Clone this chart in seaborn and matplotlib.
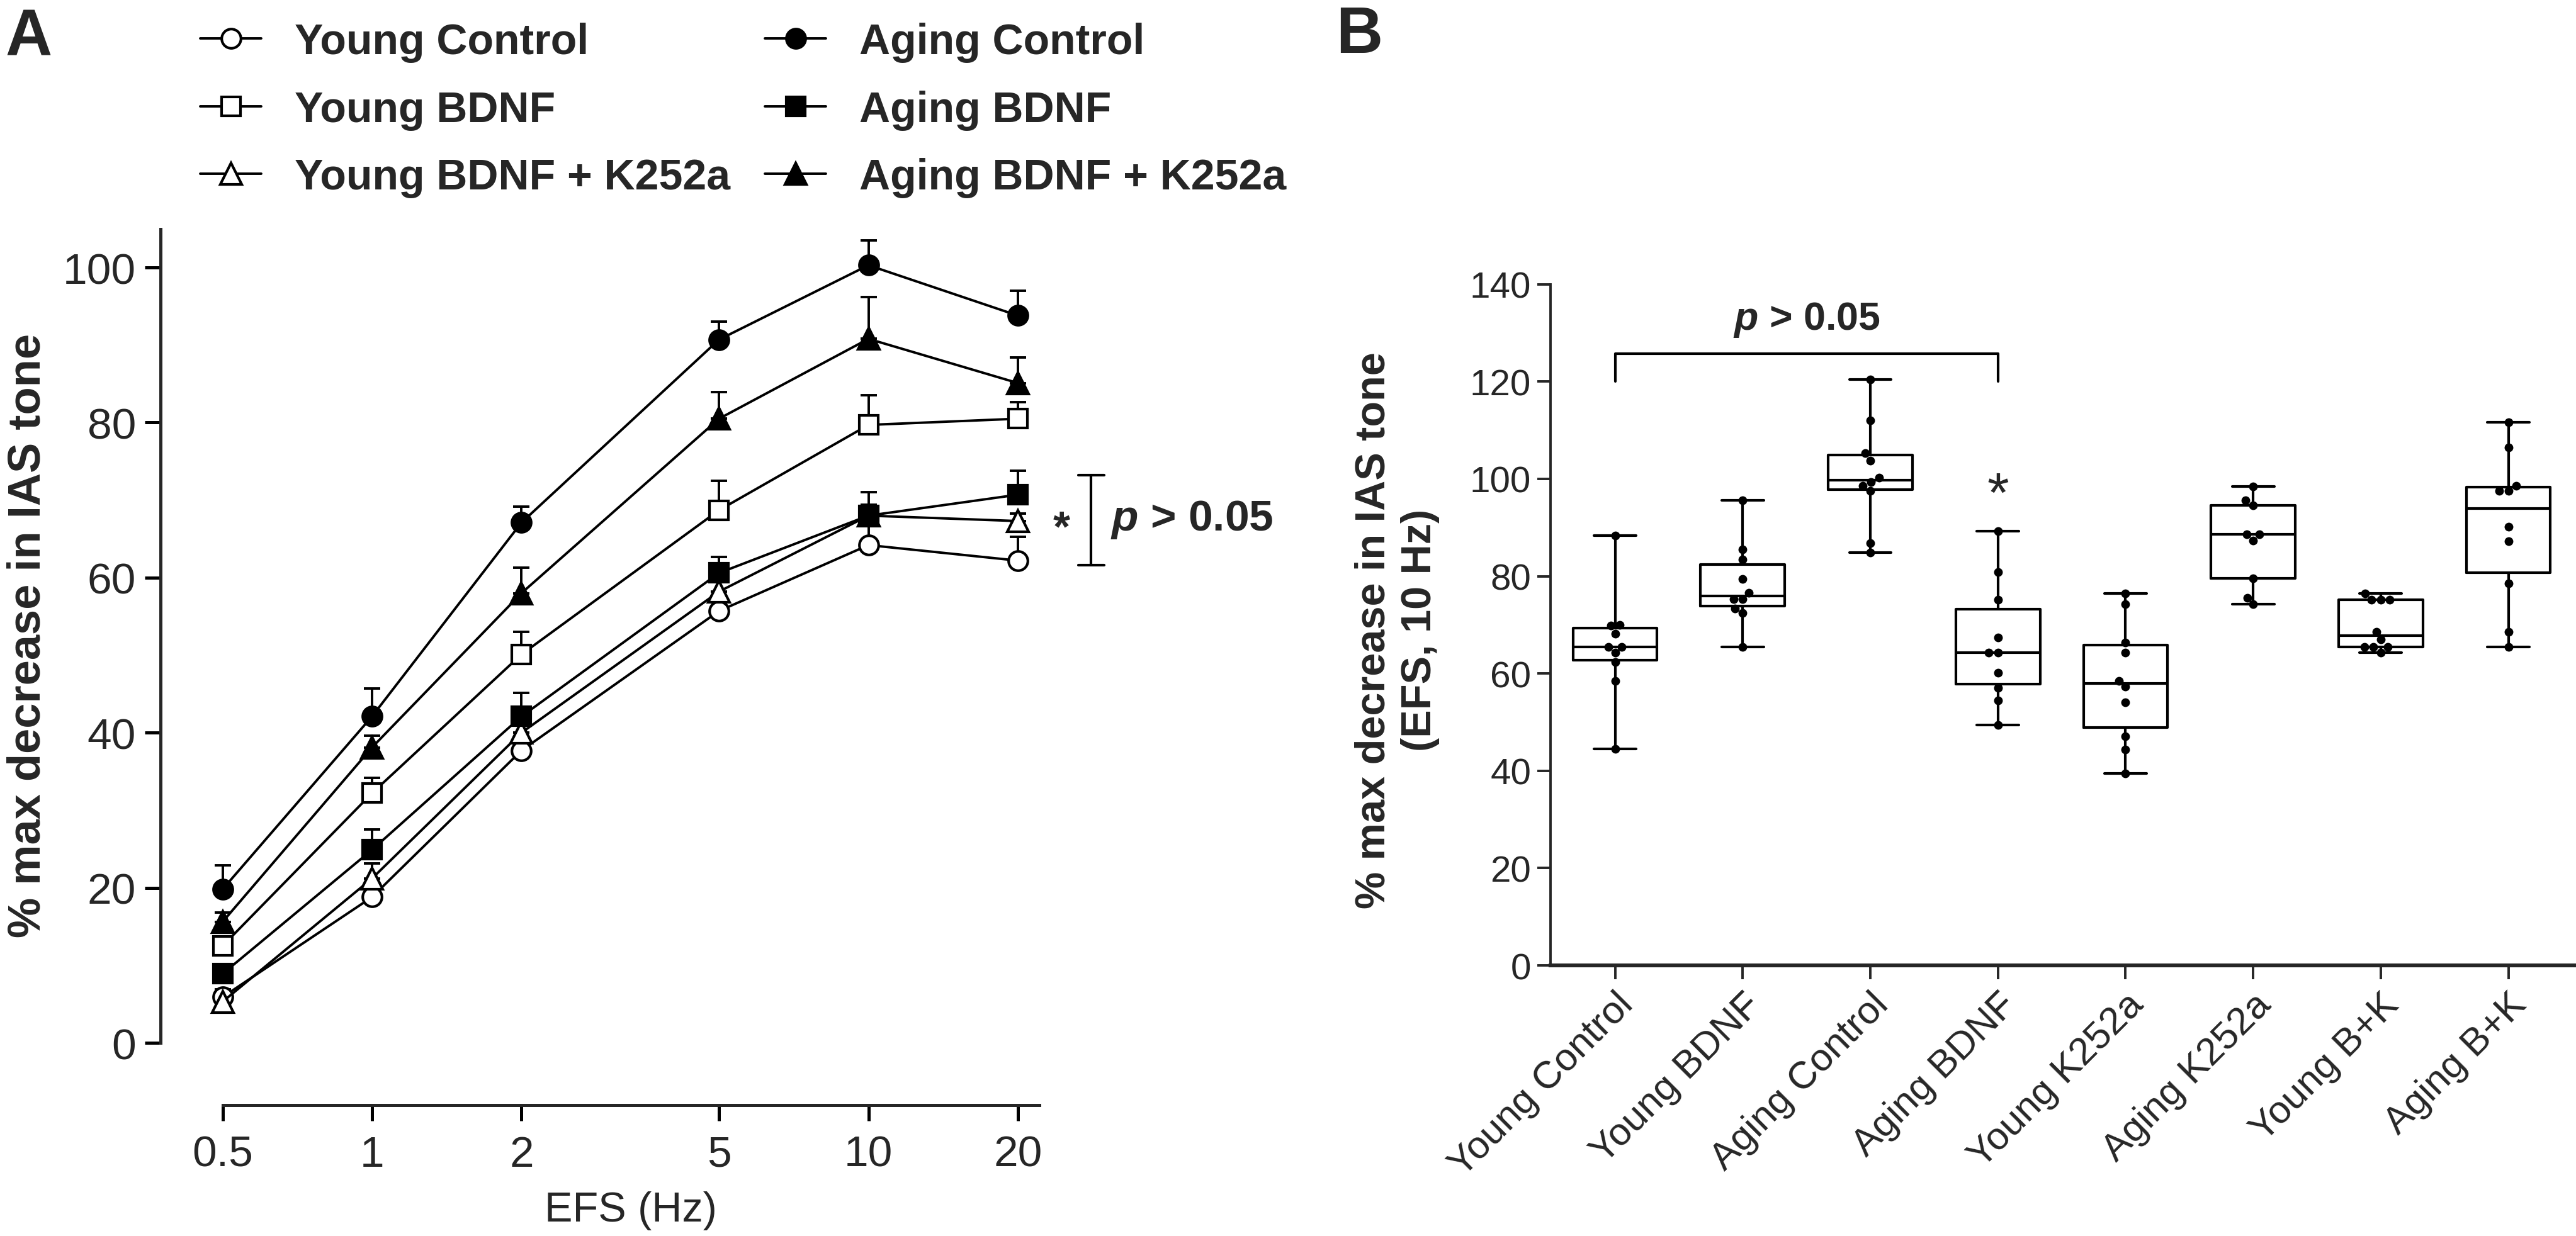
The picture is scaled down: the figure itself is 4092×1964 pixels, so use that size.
import numpy as np
import pandas as pd
import matplotlib
matplotlib.use("Agg")
import matplotlib.pyplot as plt
import seaborn as sns
from matplotlib.ticker import NullLocator

# ---- panel A: frequency-response curves (mean + SEM) ----
efs_hz = [0.5, 1, 2, 5, 10, 20]
efs_labels = ["0.5", "1", "2", "5", "10", "20"]

young_control = [5.9, 18.8, 37.7, 55.7, 64.2, 62.2]
young_control_sem = [1.0, 1.0, 1.2, 1.2, 3.5, 3.1]
young_bdnf = [12.5, 32.2, 50.1, 68.7, 79.7, 80.5]
young_bdnf_sem = [1.2, 2.0, 2.9, 3.8, 3.8, 2.1]
young_bdnf_k252a = [5.3, 21.2, 40.0, 58.2, 68.0, 67.3]
young_bdnf_k252a_sem = [1.5, 1.9, 1.5, 1.5, 1.4, 1.0]
aging_control = [19.8, 42.1, 67.1, 90.7, 100.3, 93.8]
aging_control_sem = [3.1, 3.6, 2.1, 2.3, 3.2, 3.2]
aging_bdnf = [8.9, 24.9, 42.1, 60.6, 68.0, 70.7]
aging_bdnf_sem = [1.2, 2.6, 3.0, 2.1, 3.0, 3.1]
aging_bdnf_k252a = [15.6, 38.1, 58.0, 80.5, 90.8, 85.1]
aging_bdnf_k252a_sem = [1.2, 1.5, 3.3, 3.4, 5.4, 3.3]

# ---- panel B: individual values at 10 Hz ----
groups_b = ["Young Control", "Young BDNF", "Aging Control", "Aging BDNF",
            "Young K252a", "Aging K252a", "Young B+K", "Aging B+K"]
young_control_pts = [88.4, 70.0, 69.8, 68.2, 65.5, 65.5, 64.3, 62.3, 58.5, 44.5]
young_bdnf_pts = [95.6, 85.5, 83.4, 79.4, 76.6, 75.3, 75.3, 73.4, 72.4, 65.4]
aging_control_pts = [120.4, 112.0, 105.3, 103.8, 100.2, 99.4, 98.6, 97.6, 86.8, 84.9]
aging_bdnf_pts = [89.3, 80.9, 75.2, 67.4, 64.3, 64.3, 60.2, 57.0, 54.5, 49.4]
young_k252a_pts = [76.5, 74.2, 66.4, 64.3, 58.5, 57.3, 54.1, 47.1, 44.4, 39.4]
aging_k252a_pts = [98.4, 95.6, 94.6, 88.6, 88.6, 87.3, 79.6, 75.6, 74.2]
young_bk_pts = [76.5, 75.2, 75.2, 75.2, 68.6, 67.0, 65.4, 65.4, 65.4, 64.3]
aging_bk_pts = [111.7, 106.5, 98.6, 97.6, 97.6, 90.2, 87.2, 78.5, 68.6, 65.5]

sns.set_style("ticks")
plt.rcParams["font.family"] = ["Liberation Sans", "DejaVu Sans"]
plt.rcParams["mathtext.fontset"] = "custom"
plt.rcParams["mathtext.it"] = "Liberation Sans:bold:italic"
plt.rcParams["mathtext.rm"] = "Liberation Sans:bold"

W, H = 4092, 1965
fig = plt.figure(figsize=(W / 200, H / 200), dpi=200)

# ================= Panel A =================
axA = fig.add_axes([0.0864, 0.1562, 0.3171, 0.6583])
series = [
    ("Young Control", young_control, young_control_sem, "o", "white"),
    ("Young BDNF", young_bdnf, young_bdnf_sem, "s", "white"),
    ("Young BDNF + K252a", young_bdnf_k252a, young_bdnf_k252a_sem, "^", "white"),
    ("Aging Control", aging_control, aging_control_sem, "o", "black"),
    ("Aging BDNF", aging_bdnf, aging_bdnf_sem, "s", "black"),
    ("Aging BDNF + K252a", aging_bdnf_k252a, aging_bdnf_k252a_sem, "^", "black"),
]
for name, vals, sem, mk, fc in series:
    axA.errorbar(efs_hz, vals, yerr=[np.zeros(len(sem)), sem], fmt="none",
                 ecolor="black", elinewidth=1.4, capsize=4.8, capthick=1.4,
                 zorder=2, clip_on=False)
    sns.lineplot(x=efs_hz, y=vals, ax=axA, color="black", marker=mk,
                 markersize=11 if mk != "^" else 12, markerfacecolor=fc,
                 markeredgecolor="black", markeredgewidth=1.5, linewidth=1.4,
                 label=name, errorbar=None, zorder=3, clip_on=False)

handles, labels = axA.get_legend_handles_labels()
if axA.get_legend() is not None:
    axA.get_legend().remove()

axA.set_xscale("log")
axA.set_xlim(0.5, 22.1)
axA.set_ylim(0, 105)
axA.set_xticks(efs_hz)
axA.set_xticklabels(efs_labels)
axA.xaxis.set_minor_locator(NullLocator())
axA.set_yticks(range(0, 101, 20))
sns.despine(ax=axA, offset=35.5)
for s in ["left", "bottom"]:
    axA.spines[s].set_linewidth(1.8)
axA.tick_params(axis="both", length=9, width=1.8, labelsize=25, color="black")
axA.tick_params(axis="y", pad=5)
axA.tick_params(axis="x", pad=8)
axA.set_xlabel("EFS (Hz)", fontsize=24)
axA.xaxis.set_label_coords(0.2449, 0.0366, transform=fig.transFigure)
axA.set_ylabel("% max decrease in IAS tone", fontsize=26, fontweight="bold")
axA.yaxis.set_label_coords(0.0193, 0.486, transform=fig.transFigure)

# significance marks
axA.text(24.5, 64.8, "*", ha="center", va="baseline", fontsize=25,
         fontweight="bold")
axA.plot([28.1, 28.1], [61.6, 73.2], color="black", lw=1.5, clip_on=False)
axA.plot([26.5, 29.8], [73.2, 73.2], color="black", lw=1.5, clip_on=False)
axA.plot([26.5, 29.8], [61.6, 61.6], color="black", lw=1.5, clip_on=False)
axA.text(30.7, 66.2, "$p$ > 0.05", ha="left", va="baseline", fontsize=25,
         fontweight="bold")

fig.legend(handles, labels, ncol=2, loc="upper left",
           bbox_to_anchor=(318 / W, 1 - 36 / H), frameon=False,
           prop={"weight": "bold", "size": 24.5}, handlelength=1.43,
           handletextpad=0.78, columnspacing=0.8, labelspacing=0.64,
           borderpad=0, borderaxespad=0)

# ================= Panel B =================
df_b = pd.DataFrame({
    "group": np.repeat(groups_b, [len(young_control_pts), len(young_bdnf_pts),
                                  len(aging_control_pts), len(aging_bdnf_pts),
                                  len(young_k252a_pts), len(aging_k252a_pts),
                                  len(young_bk_pts), len(aging_bk_pts)]),
    "value": young_control_pts + young_bdnf_pts + aging_control_pts
    + aging_bdnf_pts + young_k252a_pts + aging_k252a_pts + young_bk_pts
    + aging_bk_pts,
})

axB = fig.add_axes([0.6019, 0.2188, 0.3981, 0.5508])
sns.boxplot(data=df_b, x="group", y="value", order=groups_b, ax=axB,
            whis=(0, 100), width=0.66, fill=False, color="black",
            linecolor="black", linewidth=1.5, showfliers=False)
sns.swarmplot(data=df_b, x="group", y="value", order=groups_b, ax=axB,
              color="black", size=5, zorder=4)

axB.set_xlim(-0.506, 7.53)
axB.set_ylim(0, 140)
axB.set_yticks(range(0, 141, 20))
sns.despine(ax=axB)
axB.spines["left"].set_linewidth(1.4)
axB.spines["bottom"].set_linewidth(2.2)
axB.tick_params(axis="y", length=7.5, width=1.4, labelsize=21, pad=3.6)
axB.tick_params(axis="x", length=8, width=1.4, labelsize=22, pad=4)
for lab in axB.get_xticklabels():
    lab.set_rotation(45)
    lab.set_ha("right")
    lab.set_va("top")
    lab.set_rotation_mode("anchor")
axB.set_xlabel("")
axB.set_ylabel("% max decrease in IAS tone\n(EFS, 10 Hz)", fontsize=24,
               fontweight="bold", linespacing=1.25)
axB.yaxis.set_label_coords(0.559, 0.4903, transform=fig.transFigure)

axB.plot([0, 0, 3, 3], [120, 125.7, 125.7, 120], color="black", lw=1.5)
axB.text(1.5, 130.8, "$p$ > 0.05", ha="center", va="baseline", fontsize=22.6,
         fontweight="bold")
axB.text(3, 93.5, "*", ha="center", va="baseline", fontsize=32)

# panel letters
fig.text(0.002, 1 - 87 / H, "A", fontsize=37, fontweight="bold", va="baseline")
fig.text(2122 / W, 1 - 84 / H, "B", fontsize=37, fontweight="bold", va="baseline")

fig.savefig("out.png", dpi=200, facecolor="white")
